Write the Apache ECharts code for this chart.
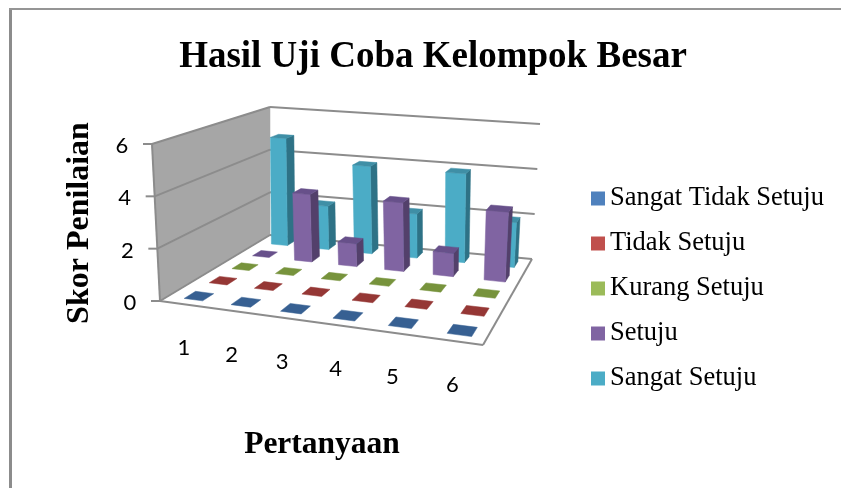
<!DOCTYPE html>
<html>
<head>
<meta charset="utf-8">
<style>html,body{margin:0;padding:0;background:#fff}#main{width:841px;height:488px}</style>
<script src="https://cdn.jsdelivr.net/npm/echarts@6/dist/echarts.min.js"></script>
</head>
<body>
<div id="main"></div>
<script>
// data
var categories = ['1', '2', '3', '4', '5', '6'];
var yTicks = [0, 2, 4, 6];
var sangatTidakSetuju = [0, 0, 0, 0, 0, 0];
var tidakSetuju = [0, 0, 0, 0, 0, 0];
var kurangSetuju = [0, 0, 0, 0, 0, 0];
var setuju = [0, 3, 1, 3, 1, 3];
var sangatSetuju = [5, 2, 4, 2, 4, 2];

var serif = '"Liberation Serif", serif';

// corners of the 3d box on screen: floor and the plane at y max
var floor = [[160, 301], [483, 345], [532, 259], [270, 235]];
var ceil = [[152, 144], [490, 180], [540, 124], [270, 107]];

// unit square -> quad
function makeHomography(q) {
    var dx1 = q[1][0] - q[2][0], dx2 = q[3][0] - q[2][0], sx = q[0][0] - q[1][0] + q[2][0] - q[3][0];
    var dy1 = q[1][1] - q[2][1], dy2 = q[3][1] - q[2][1], sy = q[0][1] - q[1][1] + q[2][1] - q[3][1];
    var det = dx1 * dy2 - dx2 * dy1;
    var g = (sx * dy2 - dx2 * sy) / det;
    var h = (dx1 * sy - sx * dy1) / det;
    var a = q[1][0] - q[0][0] + g * q[1][0], b = q[3][0] - q[0][0] + h * q[3][0], c = q[0][0];
    var d = q[1][1] - q[0][1] + g * q[1][1], e = q[3][1] - q[0][1] + h * q[3][1], f = q[0][1];
    return function (u, v) {
        var w = g * u + h * v + 1;
        return [(a * u + b * v + c) / w, (d * u + e * v + f) / w];
    };
}
var floorAt = makeHomography(floor);
var ceilAt = makeHomography(ceil);

// u across questions, v into the depth, t height (all 0..1)
function project(u, v, t) {
    var p0 = floorAt(u, v), p1 = ceilAt(u, v);
    return [p0[0] + (p1[0] - p0[0]) * t, p0[1] + (p1[1] - p0[1]) * t];
}

// grid pixel -> normalised position in the box
function toBox(params, p) {
    var s = params.coordSys;
    return [(p[0] - s.x) / s.width, (s.y + s.height - p[1]) / s.height];
}

function quad(points, color) {
    return { type: 'polygon', shape: { points: points }, style: { fill: color, stroke: color, lineWidth: 0.5 } };
}
function line(a, b, color, w) {
    return { type: 'line', shape: { x1: a[0], y1: a[1], x2: b[0], y2: b[1] }, style: { stroke: color, lineWidth: w } };
}

function barSeries(name, values, depthIndex, front, side, top) {
    return {
        name: name,
        type: 'custom',
        coordinateSystem: 'cartesian2d',
        itemStyle: { color: front },
        silent: true,
        data: values.map(function (v, i) { return [i, v]; }),
        renderItem: function (params, api) {
            var c = toBox(params, api.coord([api.value(0), api.value(1)]));
            var band = api.size([1, 0])[0] / params.coordSys.width;
            var u0 = c[0] + band * (0.06 - 0.2), u1 = c[0] + band * (0.06 + 0.2);
            var v0 = (depthIndex + 0.29) / 5, v1 = (depthIndex + 0.73) / 5;
            // bars sit a little under the wall gridlines in the original
            var t = c[1] * 0.97;
            var children = [];
            if (t > 0) {
                children.push(quad([project(u1, v0, 0), project(u1, v1, 0), project(u1, v1, t), project(u1, v0, t)], side));
                children.push(quad([project(u0, v0, 0), project(u1, v0, 0), project(u1, v0, t), project(u0, v0, t)], front));
            }
            children.push(quad([project(u0, v0, t), project(u1, v0, t), project(u1, v1, t), project(u0, v1, t)], top));
            return { type: 'group', children: children };
        }
    };
}

// walls, gridlines and y tick labels
var wallSeries = {
    type: 'custom',
    coordinateSystem: 'cartesian2d',
    silent: true,
    data: yTicks.map(function (t) { return [0, t]; }),
    renderItem: function (params, api) {
        var t = toBox(params, api.coord([0, api.value(1)]))[1];
        var children = [];
        var g = '#8c8c8c';
        if (params.dataIndex === 0) {
            children.push(quad([project(0, 0, 0), project(0, 1, 0), project(0, 1, 1), project(0, 0, 1)], '#a6a6a6'));
            children.push(line(project(0, 0, 0), project(1, 0, 0), g, 2));
            children.push(line(project(1, 0, 0), project(1, 1, 0), g, 2));
            children.push(line(project(0, 0, 0), project(0, 0, 1), g, 2));
        }
        var a = project(0, 0, t), b = project(0, 1, t), c = project(1, 1, t);
        children.push(line([a[0] - 9, a[1]], a, g, 2));
        children.push(line(a, b, g, 2));
        children.push(line(b, c, g, 2));
        children.push({
            type: 'text',
            style: { text: String(api.value(1)), x: a[0] - 30, y: a[1] + 2, fill: '#000', font: '22px Lato', textAlign: 'center', textVerticalAlign: 'middle' }
        });
        return { type: 'group', children: children };
    }
};

// question labels under the floor
var questionLabels = {
    type: 'custom',
    coordinateSystem: 'cartesian2d',
    silent: true,
    data: categories.map(function (q, i) { return [i, 0]; }),
    renderItem: function (params, api) {
        var c = toBox(params, api.coord([api.value(0), 0]));
        var p = project(c[0], 0, 0);
        return {
            type: 'text',
            style: { text: categories[params.dataIndex], x: p[0] + 1, y: p[1] + 44, fill: '#000', font: '22px Lato', textAlign: 'center', textVerticalAlign: 'middle' }
        };
    }
};

var myChart = echarts.init(document.getElementById('main'));

var option = {
    animation: false,
    backgroundColor: '#fff',
    title: {
        text: 'Hasil Uji Coba Kelompok Besar',
        left: 428,
        top: 34,
        textAlign: 'center',
        textStyle: { fontFamily: serif, fontSize: 37, fontWeight: 'bold', color: '#000' }
    },
    legend: {
        orient: 'vertical',
        left: 586,
        top: 180,
        icon: 'rect',
        itemWidth: 14,
        itemHeight: 14,
        itemGap: 18,
        selectedMode: false,
        textStyle: { fontFamily: serif, fontSize: 26.5, color: '#000' },
        data: ['Sangat Tidak Setuju', 'Tidak Setuju', 'Kurang Setuju', 'Setuju', 'Sangat Setuju']
    },
    grid: { left: 100, width: 444, top: 123, height: 200 },
    xAxis: {
        type: 'category',
        data: categories,
        name: 'Pertanyaan',
        nameLocation: 'middle',
        nameGap: 106,
        nameTextStyle: { fontFamily: serif, fontSize: 31.5, fontWeight: 'bold', color: '#000' },
        axisLine: { show: false },
        axisTick: { show: false },
        axisLabel: { show: false }
    },
    yAxis: {
        type: 'value',
        min: 0,
        max: 6,
        interval: 2,
        name: 'Skor Penilaian',
        nameLocation: 'middle',
        nameGap: 4,
        nameTextStyle: { fontFamily: serif, fontSize: 32, fontWeight: 'bold', color: '#000' },
        axisLine: { show: false },
        axisTick: { show: false },
        axisLabel: { show: false },
        splitLine: { show: false }
    },
    // back row first so the nearer bars cover it
    series: [
        wallSeries,
        questionLabels,
        barSeries('Sangat Setuju', sangatSetuju, 4, '#4bacc6', '#2e7286', '#3f8fa6'),
        barSeries('Setuju', setuju, 3, '#8064a2', '#53406b', '#67508a'),
        barSeries('Kurang Setuju', kurangSetuju, 2, '#9bbb59', '#77933c', '#77933c'),
        barSeries('Tidak Setuju', tidakSetuju, 1, '#c0504d', '#953735', '#953735'),
        barSeries('Sangat Tidak Setuju', sangatTidakSetuju, 0, '#4f81bd', '#376092', '#376092')
    ],
    graphic: [
        { type: 'rect', shape: { x: 9, y: 8, width: 3, height: 480 }, style: { fill: '#8c8c8c' } },
        { type: 'rect', shape: { x: 9, y: 8, width: 832, height: 2 }, style: { fill: '#959595' } }
    ]
};

myChart.setOption(option);
</script>
</body>
</html>
